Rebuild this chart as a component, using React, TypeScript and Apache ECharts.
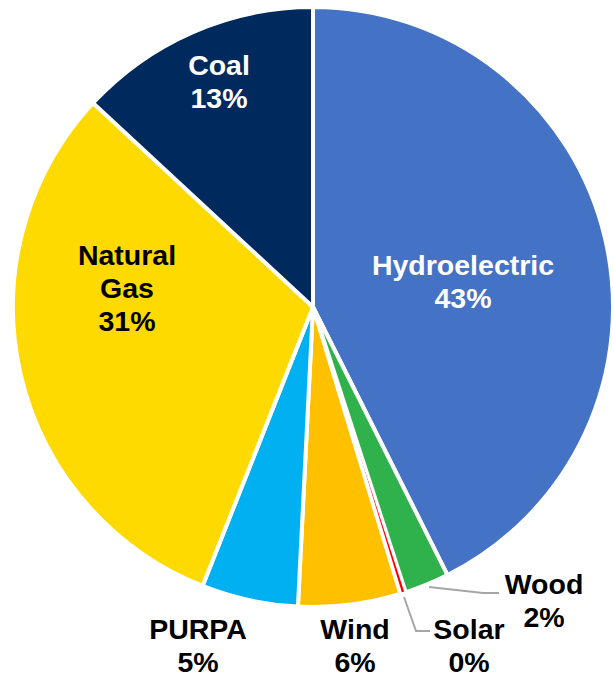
import React, { useEffect, useRef } from "react";
import * as echarts from "echarts";

const categories = ["Hydroelectric", "Wood", "Solar", "Wind", "PURPA", "Natural Gas", "Coal"];
const values = [42.6, 2.4, 0.3, 5.5, 5.2, 30.9, 13.1];
const colors = ["#4472C4", "#2FB24C", "#FF0000", "#FFC000", "#00B0F0", "#FFDA00", "#002A5E"];
const labelColors = ["#FFFFFF", "#000000", "#000000", "#000000", "#000000", "#000000", "#FFFFFF"];
const labelPos: number[][] = [
  [463, 281],
  [544, 600],
  [469, 645],
  [355, 645],
  [198, 645],
  [127, 288],
  [219, 81],
];
const leaderLines: (number[][] | null)[] = [
  null,
  [[429, 587], [483, 593], [499, 593]],
  [[404, 597], [416, 631], [430, 631]],
  null,
  null,
  null,
  null,
];

export default function App() {
  const ref = useRef<HTMLDivElement>(null);
  useEffect(() => {
    if (!ref.current) return;
    const chart = echarts.init(ref.current, null, { renderer: "svg" });
    const data = categories.map((name, i) => ({
      name,
      value: values[i],
      itemStyle: { color: colors[i], borderWidth: name === "Solar" ? 2.5 : 4 },
      label: { color: labelColors[i] },
      labelLine: { show: !!leaderLines[i] },
    }));
    chart.setOption({
      animation: false,
      series: [
        {
          type: "pie",
          center: [313, 307],
          radius: 300,
          startAngle: 90,
          clockwise: true,
          avoidLabelOverlap: false,
          percentPrecision: 0,
          emphasis: { disabled: true },
          itemStyle: { borderColor: "#FFFFFF", borderWidth: 4 },
          label: {
            show: true,
            position: "outside",
            fontFamily: "Liberation Sans, Arial, sans-serif",
            fontWeight: "bold",
            fontSize: 28.5,
            lineHeight: 33,
            align: "center",
            formatter: (p: any) => p.name.replace(" ", "\n") + "\n" + p.percent + "%",
          },
          labelLine: {
            show: false,
            lineStyle: { color: "#A6A6A6", width: 2 },
          },
          labelLayout: (params: any) => {
            const i = params.dataIndex;
            const res: any = {
              x: labelPos[i][0],
              y: labelPos[i][1],
              align: "center",
              verticalAlign: "middle",
            };
            if (leaderLines[i]) res.labelLinePoints = leaderLines[i];
            return res;
          },
          data,
        },
      ],
    });
    return () => chart.dispose();
  }, []);
  return (
    <div
      ref={ref}
      style={{ position: "absolute", left: 0, top: 0, width: 613, height: 678, background: "#FFFFFF" }}
    />
  );
}
